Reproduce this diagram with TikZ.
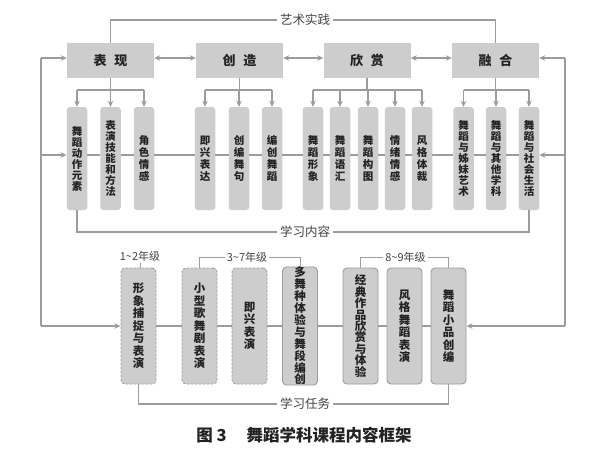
\documentclass[tikz,border=0pt]{standalone}
\usepackage{fontspec}
\setmainfont{Noto Sans CJK SC}
\usetikzlibrary{arrows.meta}
\definecolor{ln}{HTML}{9C9C9C}
\definecolor{bx}{HTML}{CDCDCD}
\definecolor{tx}{HTML}{222222}
\tikzset{
  x=1pt,y=-1pt,
  line/.style={draw=ln, line width=1.2pt},
  arr/.style={line, -{Stealth[length=6pt,width=5.5pt]}},
  dbl/.style={line, {Stealth[length=6pt,width=5.5pt]}-{Stealth[length=6pt,width=5.5pt]}},
  topbox/.style={fill=bx, minimum width=87pt, minimum height=35pt, inner sep=0pt,
    font=\fontsize{13}{15}\selectfont\bfseries, text=tx},
  subbox/.style={fill=bx, rounded corners=3pt, minimum width=20.5pt, minimum height=103pt,
    inner sep=0pt, align=center, text=tx, font=\fontsize{10.5}{11}\selectfont\bfseries},
  subboxw/.style={subbox, font=\fontsize{10.5}{12}\selectfont\bfseries},
  taskbox/.style={fill=bx, draw=ln, line width=0.9pt, rounded corners=4pt, minimum width=35pt,
    minimum height=116pt, inner sep=0pt, align=center, text=tx,
    font=\fontsize{11.5}{12.5}\selectfont\bfseries},
  taskboxd/.style={taskbox, dash pattern=on 2.5pt off 1.5pt},
  lab/.style={font=\fontsize{12.5}{14}\selectfont, text=tx!85, inner sep=3pt},
  yearlab/.style={font=\fontsize{11}{12}\selectfont, text=tx!85, inner sep=2pt},
}
\begin{document}
\begin{tikzpicture}
\useasboundingbox (0,0) rectangle (608,464);
\fill[white] (0,0) rectangle (608,464);

% top boxes
\node[topbox] (b1) at (110.5,60.5) {表\hspace{0.6em}现};
\node[topbox] (b2) at (239.5,60.5) {创\hspace{0.6em}造};
\node[topbox] (b3) at (367,60.5) {欣\hspace{0.6em}赏};
\node[topbox] (b4) at (495.5,60.5) {融\hspace{0.6em}合};

% sub boxes
\node[subbox]  (s1)  at (77,158.5)  {舞\\蹈\\动\\作\\元\\素};
\node[subbox]  (s2)  at (110.5,158.5) {表\\演\\技\\能\\和\\方\\法};
\node[subboxw] (s3)  at (144,158.5) {角\\色\\情\\感};
\node[subboxw] (s4)  at (205,158.5) {即\\兴\\表\\达};
\node[subboxw] (s5)  at (239,158.5) {创\\编\\舞\\句};
\node[subboxw] (s6)  at (272,158.5) {编\\创\\舞\\蹈};
\node[subboxw] (s7)  at (313,158.5) {舞\\蹈\\形\\象};
\node[subboxw] (s8)  at (340,158.5) {舞\\蹈\\语\\汇};
\node[subboxw] (s9)  at (368,158.5) {舞\\蹈\\构\\图};
\node[subboxw] (s10) at (395,158.5) {情\\绪\\情\\感};
\node[subboxw] (s11) at (422,158.5) {风\\格\\体\\裁};
\node[subbox]  (s12) at (463.5,158.5) {舞\\蹈\\与\\姊\\妹\\艺\\术};
\node[subbox]  (s13) at (496,158.5) {舞\\蹈\\与\\其\\他\\学\\科};
\node[subbox]  (s14) at (529,158.5) {舞\\蹈\\与\\社\\会\\生\\活};

% task boxes
\node[taskboxd] (t1) at (138.5,326) {形\\象\\捕\\捉\\与\\表\\演};
\node[taskboxd] (t2) at (199.5,326) {小\\型\\歌\\舞\\剧\\表\\演};
\node[taskboxd] (t3) at (249.5,326) {即\\兴\\表\\演};
\node[taskbox, font=\fontsize{11.5}{11.9}\selectfont\bfseries] (t4) at (300,326) {多\\舞\\种\\体\\验\\与\\舞\\段\\编\\创};
\node[taskbox, font=\fontsize{11.5}{11.4}\selectfont\bfseries] (t5) at (360.5,326) {经\\典\\作\\品\\欣\\赏\\与\\体\\验};
\node[taskbox] (t6) at (404.5,326) {风\\格\\舞\\蹈\\表\\演};
\node[taskbox] (t7) at (448.5,326) {舞\\蹈\\小\\品\\创\\编};

% labels
\node[lab] (yishu) at (305,20) {艺术实践};
\node[lab] (nr) at (305,232) {学习内容};
\node[lab] (rw) at (305,404) {学习任务};
\node[yearlab] (y1) at (140,256) {1\textasciitilde 2年级};
\node[yearlab] (y2) at (247,257) {3\textasciitilde 7年级};
\node[yearlab] (y3) at (405.5,257) {8\textasciitilde 9年级};

% coordinates
\coordinate (L1) at (41,58);
\coordinate (L2) at (41,155);
\coordinate (L3) at (41,326);
\coordinate (R1) at (565,58);
\coordinate (R2) at (565,155);
\coordinate (R3) at (565,326);
\coordinate (bar) at (0,90);

% art practice
\draw[line] (b1.north) -- (b1.north |- yishu) -- (yishu.west);
\draw[line] (yishu.east) -- (b4.north |- yishu) -- (b4.north);

% double arrows
\draw[dbl] (b1.east |- L1) -- (b2.west |- L1);
\draw[dbl] (b2.east |- L1) -- (b3.west |- L1);
\draw[dbl] (b3.east |- L1) -- (b4.west |- L1);

% side lines
\draw[line] (L3) -- (L1);
\draw[arr] (L1) -- (b1.west |- L1);
\draw[arr] (L2) -- (s1.west |- L2);
\draw[arr] (L3) -- (t1.west |- L3);
\draw[line] (R3) -- (R1);
\draw[arr] (R1) -- (b4.east |- R1);
\draw[arr] (R2) -- (s14.east |- R2);
\draw[arr] (R3) -- (t7.east |- R3);

% branches
\draw[line] (b1.south) -- (b1.south |- bar);
\draw[line] (s1.north |- bar) -- (s3.north |- bar);
\foreach \s in {s1,s2,s3} \draw[arr] (\s.north |- bar) -- (\s.north);
\draw[line] (b2.south) -- (b2.south |- bar);
\draw[line] (s4.north |- bar) -- (s6.north |- bar);
\foreach \s in {s4,s5,s6} \draw[arr] (\s.north |- bar) -- (\s.north);
\draw[line] (b3.south) -- (b3.south |- bar);
\draw[line] (s7.north |- bar) -- (s11.north |- bar);
\foreach \s in {s7,s8,s9,s10,s11} \draw[arr] (\s.north |- bar) -- (\s.north);
\draw[line] (b4.south) -- (b4.south |- bar);
\draw[line] (s12.north |- bar) -- (s14.north |- bar);
\foreach \s in {s12,s13,s14} \draw[arr] (\s.north |- bar) -- (\s.north);

% horizontal chains
\foreach \a/\b in {s1/s2,s2/s3,s3/s4,s4/s5,s5/s6,s6/s7,s7/s8,s8/s9,s9/s10,s10/s11,s11/s12,s12/s13,s13/s14}
  \draw[line] (\a.east |- L2) -- (\b.west |- L2);
\foreach \a/\b in {t1/t2,t2/t3,t3/t4,t4/t5,t5/t6,t6/t7}
  \draw[line] (\a.east |- L3) -- (\b.west |- L3);

% learning content / tasks
\draw[line] (s1.south) -- (s1.south |- nr) -- (nr.west);
\draw[line] (nr.east) -- (s14.south |- nr) -- (s14.south);
\draw[line] (t1.south) -- (t1.south |- rw) -- (rw.west);
\draw[line] (rw.east) -- (t7.south |- rw) -- (t7.south);

% year brackets
\draw[line, line width=1pt] (y1.south) -- (y1.south |- t1.north);
\draw[line, line width=1pt] (y2.west) -- (t2.north |- y2) -- (t2.north);
\draw[line, line width=1pt] (y2.east) -- (t4.north |- y2) -- (t4.north);
\draw[line, line width=1pt] (y3.west) -- (t5.north |- y3) -- (t5.north);
\draw[line, line width=1pt] (y3.east) -- (t7.north |- y3) -- (t7.north);

% caption
\node[font=\fontsize{16.5}{18}\selectfont\bfseries, text=tx] (cap) at (304,435) {图 3\hspace{20pt}舞蹈学科课程内容框架};
\end{tikzpicture}
\end{document}
